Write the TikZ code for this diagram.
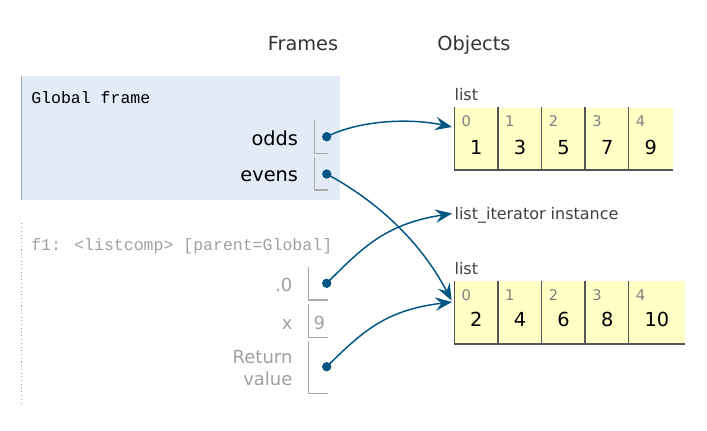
\documentclass[tikz,border=0pt]{standalone}
\usepackage{fontspec}
\setmainfont{DejaVu Sans}
\newfontfamily\codefont{Liberation Mono}
\usetikzlibrary{arrows.meta,positioning,calc}

\definecolor{framebg}{HTML}{E2EBF6}
\definecolor{framebar}{HTML}{A3ABB3}
\definecolor{ptrblue}{HTML}{005583}
\definecolor{cellbg}{HTML}{FFFFC6}
\definecolor{cellline}{HTML}{555555}
\definecolor{idxgray}{HTML}{808080}
\definecolor{fadegray}{HTML}{A0A0A0}
\definecolor{slotgray}{HTML}{AAAAAA}

\begin{document}
\begin{tikzpicture}[x=0.75pt,y=-0.75pt]

  % --- styles ---
  \tikzset{
    heading/.style={font=\fontsize{14.5}{17}\selectfont, text=black!80, inner sep=0pt, anchor=base},
    framehead/.style={font=\codefont\fontsize{12.4}{15}\selectfont, inner sep=0pt, anchor=base west},
    varname/.style={font=\fontsize{14.5}{17}\selectfont, text=black, inner sep=0pt, anchor=base east},
    localname/.style={font=\fontsize{13.5}{16.3}\selectfont, text=fadegray, inner sep=0pt, anchor=base east, align=right},
    slot/.style={draw=slotgray, line width=0.9pt},
    dot/.style={circle, fill=ptrblue, inner sep=0pt, minimum size=7pt},
    ptr/.style={draw=ptrblue, line width=1.1pt, -{Stealth[length=12.5pt, width=10pt, inset=4.5pt]}},
    objlabel/.style={font=\fontsize{12}{14}\selectfont, text=black!75, inner sep=0pt, anchor=base west},
    cellbox/.style={fill=cellbg, draw=none, inner sep=0pt, anchor=north west, minimum height=46.5pt},
    idx/.style={font=\fontsize{11}{13}\selectfont, text=idxgray, inner sep=0pt, anchor=base west},
    val/.style={font=\fontsize{14.5}{17}\selectfont, text=black, inner sep=0pt, anchor=base}
  }

  \useasboundingbox (0,0) rectangle (707,430);

  % --- headings ---
  \node[heading] (frames) at (303,50) {Frames};
  \node[heading] (objects) at (474,50) {Objects};

  % --- global frame ---
  \node[fill=framebg, inner sep=0pt, anchor=north west, minimum width=239pt, minimum height=92.7pt] (global) at (21.3,75.7) {};
  \draw[framebar, line width=1.1pt] (global.north west) -- (global.south west);
  \node[framehead] (globalhead) at (31,103.3) {Global frame};

  \node[varname] (odds) at (298.3,145) {odds};
  \draw[slot] (314.3,120) |- (327.7,153.3);
  \node[dot] (oddsdot) at (326.7,136.7) {};

  \node[varname] (evens) at (298.3,181.7) {evens};
  \draw[slot] (314.3,157.3) |- (327.7,190);
  \node[dot] (evensdot) at (326.7,174) {};

  % --- listcomp frame ---
  \draw[fadegray, line width=0.8pt, dotted] (21.3,223.3) -- (21.3,402.7);
  \node[framehead, text=fadegray] (f1head) at (31,250) {f1: <listcomp> [parent=Global]};

  \node[localname] (iter) at (292.7,291.7) {.0};
  \draw[slot] (308.3,267.3) |- (327.7,300);
  \node[dot] (iterdot) at (326.7,283.3) {};

  \node[localname] (xname) at (292.7,329) {x};
  \draw[slot] (308.3,304.3) |- (327.7,337.3);
  \node[localname, anchor=base west] (xval) at (313.3,329) {9};

  % anchor base = last line (value)
  \node[localname] (retname) at (292.7,385) {Return\\value};
  \draw[slot] (308.3,341) |- (327.7,393.3);
  \node[dot] (retdot) at (326.7,366.7) {};

  % --- objects ---
  \node[objlabel] (oddlabel) at (454.3,100.7) {list};
  \foreach \v [count=\i from 0] in {1,3,5,7,9} {
    \node[cellbox, minimum width=32.7pt] (odd\i) at ({454.3+43.6*\i},107.3) {};
    \draw[cellline, line width=1pt] (odd\i.north west) -- (odd\i.south west) -- (odd\i.south east);
    \node[idx] at ($(odd\i.north west)+(7,18.7)$) {\i};
    \node[val] at ($(odd\i.north)+(0,46.7)$) {\v};
  }

  \node[objlabel] (iterlabel) at (454.3,219.3) {list\_iterator instance};

  \node[objlabel] (evenlabel) at (454.3,274) {list};
  \foreach \v/\w [count=\i from 0] in {2/32.7,4/32.7,6/32.7,8/32.7,10/41.8} {
    \node[cellbox, minimum width=\w pt, minimum height=47pt] (even\i) at ({454.3+43.6*\i},280.7) {};
    \draw[cellline, line width=1pt] (even\i.north west) -- (even\i.south west) -- (even\i.south east);
    \node[idx] at ($(even\i.north west)+(7,19.3)$) {\i};
    \node[val] at ($(even\i.north)+(0,46)$) {\v};
  }

  % --- pointers ---
  \coordinate (oddsin) at (452,127);
  \coordinate (iterin) at (452,213.5);
  \coordinate (evensin) at (451.5,300.5);
  \coordinate (retin) at (452,302);

  \draw[ptr] (oddsdot.center) .. controls (360,120) and (410,118) .. (oddsin);
  \draw[ptr] (evensdot.center) .. controls (375,200) and (420,240) .. (evensin);
  \draw[ptr] (iterdot.center) .. controls (362,248) and (385,224) .. (iterin);
  \draw[ptr] (retdot.center) .. controls (362,332) and (385,310) .. (retin);

\end{tikzpicture}
\end{document}
